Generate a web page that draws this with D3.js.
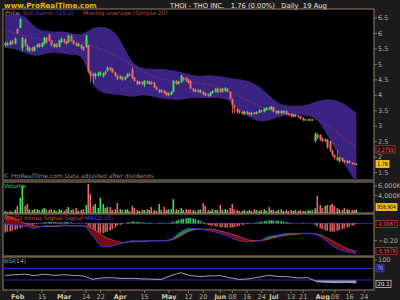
<!doctype html>
<html lang="en">
<head>
<meta charset="UTF-8">
<script src="https://cdnjs.cloudflare.com/ajax/libs/d3/7.8.5/d3.min.js"></script>
<title>THOI daily</title>
<style>
  body { margin: 0; background: #1b1b1b; }
  svg { display: block; }
  text { font-family: "DejaVu Sans", Verdana, sans-serif; }
</style>
</head>
<body>
<div id="chart"></div>
<script>
// ---- data (one entry per trading day, day 0 = late January) ----
const opens = [5.60,5.68,5.62,5.74,5.66,6.13,6.17,5.50,5.80,5.60,5.42,5.52,5.42,5.55,5.65,5.55,5.65,5.85,5.95,5.75,
  5.55,5.65,5.55,5.70,5.80,5.72,5.70,5.92,5.75,5.68,5.58,5.62,5.55,5.55,5.60,4.75,4.70,4.60,4.62,4.65,
  4.60,4.75,4.78,4.88,4.85,4.72,4.62,4.52,4.58,4.50,4.58,4.68,4.82,4.55,4.45,4.35,4.42,4.32,4.45,4.35,
  4.42,4.40,4.25,4.10,4.16,4.14,4.08,3.98,4.00,4.10,4.45,4.35,4.40,4.55,4.55,4.50,4.45,4.20,4.10,4.16,
  4.08,4.10,4.05,4.02,3.97,4.06,4.20,4.08,4.20,4.10,4.12,4.20,4.10,3.85,3.65,3.55,3.50,3.45,3.38,3.45,
  3.42,3.36,3.42,3.38,3.42,3.50,3.45,3.50,3.60,3.52,3.60,3.48,3.40,3.48,3.40,3.48,3.40,3.38,3.30,3.36,
  3.32,3.30,3.25,3.18,3.17,3.18,3.20,2.50,2.72,2.70,2.60,2.50,2.55,2.50,2.20,2.05,1.98,1.85,1.95,1.88,
  1.80,1.86,1.80,1.78,1.74];
const closes = [5.68,5.62,5.72,5.66,5.82,6.00,6.45,5.85,5.60,5.45,5.52,5.42,5.55,5.62,5.55,5.68,5.85,5.70,5.75,5.60,
  5.65,5.55,5.75,5.82,5.70,5.65,5.92,5.75,5.65,5.60,5.65,5.50,5.45,5.92,4.75,4.62,4.60,4.68,4.72,4.72,
  4.70,4.68,4.88,4.80,4.72,4.62,4.52,4.60,4.48,4.58,4.68,4.62,4.52,4.45,4.35,4.42,4.35,4.45,4.38,4.42,
  4.35,4.25,4.18,4.16,4.08,4.05,4.00,4.05,4.10,4.45,4.35,4.42,4.62,4.48,4.45,4.40,4.20,4.12,4.16,4.10,
  4.15,4.02,3.98,3.96,4.08,4.12,4.10,4.20,4.10,4.20,4.22,4.10,3.88,3.65,3.55,3.45,3.42,3.38,3.45,3.38,
  3.36,3.42,3.38,3.44,3.50,3.45,3.55,3.58,3.52,3.62,3.45,3.40,3.48,3.40,3.48,3.38,3.35,3.30,3.36,3.30,
  3.28,3.22,3.18,3.20,3.20,3.20,3.17,2.75,2.60,2.55,2.50,2.55,2.30,2.20,2.05,1.95,1.88,1.98,1.85,1.82,
  1.86,1.80,1.76,1.74,1.76];
const highs = [5.72,5.72,5.76,5.78,5.86,6.16,6.50,5.88,5.84,5.63,5.55,5.56,5.58,5.66,5.68,5.72,5.88,5.88,5.98,5.78,
  5.68,5.68,5.78,5.86,5.83,5.75,5.95,5.95,5.78,5.70,5.68,5.65,5.58,5.95,5.62,4.78,4.72,4.72,4.75,4.76,
  4.73,4.78,4.92,4.90,4.87,4.75,4.65,4.63,4.60,4.60,4.70,4.72,4.90,4.58,4.48,4.45,4.44,4.48,4.47,4.45,
  4.45,4.42,4.28,4.19,4.18,4.16,4.10,4.08,4.13,4.48,4.48,4.45,4.65,4.58,4.58,4.52,4.47,4.22,4.20,4.18,
  4.18,4.12,4.07,4.04,4.10,4.15,4.22,4.23,4.22,4.23,4.25,4.22,4.12,3.88,3.68,3.58,3.52,3.48,3.48,3.47,
  3.44,3.45,3.44,3.47,3.53,3.52,3.58,3.60,3.62,3.65,3.62,3.50,3.50,3.50,3.50,3.50,3.42,3.40,3.38,3.38,
  3.34,3.32,3.27,3.22,3.22,3.22,3.22,2.78,2.75,2.72,2.62,2.58,2.57,2.52,2.22,2.08,2.20,2.00,1.97,1.90,
  1.88,1.88,1.82,1.80,1.78];
const lows = [5.56,5.58,5.60,5.62,5.64,5.97,6.15,5.40,5.56,5.40,5.38,5.40,5.40,5.52,5.52,5.53,5.62,5.66,5.72,5.56,
  5.52,5.52,5.53,5.68,5.66,5.62,5.68,5.72,5.62,5.56,5.55,5.47,5.42,5.52,4.70,4.40,4.35,4.50,4.58,4.60,
  4.56,4.64,4.75,4.76,4.70,4.58,4.48,4.50,4.45,4.47,4.55,4.60,4.50,4.42,4.30,4.32,4.30,4.25,4.35,4.33,
  4.32,4.22,4.15,4.05,4.05,4.02,3.95,3.95,3.98,4.08,4.32,4.32,4.38,4.45,4.42,4.36,4.17,4.08,4.08,4.06,
  4.05,3.98,3.95,3.93,3.95,4.03,4.07,4.06,4.06,4.07,4.10,4.07,3.85,3.40,3.40,3.38,3.38,3.35,3.35,3.35,
  3.32,3.33,3.35,3.36,3.40,3.42,3.43,3.48,3.50,3.50,3.42,3.37,3.37,3.37,3.38,3.35,3.32,3.28,3.28,3.27,
  3.25,3.20,3.15,3.16,3.15,3.16,3.15,2.45,2.55,2.50,2.45,2.47,2.25,2.15,2.00,1.90,1.85,1.80,1.82,1.78,
  1.78,1.77,1.74,1.72,1.73];
// volume in thousands of shares
const volumes = [600,450,600,450,900,1700,3400,5900,1700,2100,1000,850,1000,1000,850,1000,1250,1000,850,1000,
  850,650,1000,850,650,1000,1450,850,1000,1250,650,850,1000,1900,6300,4200,1700,2100,1250,3400,
  2100,1250,1450,1450,850,1000,2300,1000,850,850,1000,650,1700,1250,850,650,850,850,1000,850,
  1450,850,650,2100,850,1450,850,1000,1000,3100,1000,850,1250,850,1000,850,1000,850,650,850,
  1000,2300,1700,850,650,1000,850,850,1900,850,1000,850,1250,2100,1000,850,650,650,850,650,
  850,650,1000,850,650,850,1000,650,1450,850,850,650,850,1000,650,850,650,850,650,850,
  650,850,650,650,850,650,850,1200,3800,1900,1250,1700,1900,1900,2100,1700,1250,1000,850,1250,
  1000,850,850,850,959];
const macdHist = [-0.11,-0.10,-0.10,-0.09,-0.08,-0.07,-0.06,-0.05,-0.04,-0.03,-0.02,-0.02,-0.01,-0.01,0,0.005,0.01,0.012,0.015,0.015,
  0.015,0.012,0.012,0.01,0.012,0.015,0.012,0.01,0.005,0,-0.005,0,0,0.005,-0.03,-0.06,-0.08,-0.10,-0.11,-0.12,
  -0.12,-0.11,-0.10,-0.09,-0.07,-0.05,-0.03,-0.02,-0.01,0,0.01,0.015,0.02,0.02,0.015,0.015,0.01,0.01,0.005,0.005,
  0.005,0,0,0.005,0.005,0.005,0,0.005,0.01,0.02,0.03,0.04,0.05,0.055,0.06,0.065,0.065,0.06,0.05,0.04,
  0.025,0.01,-0.01,-0.02,-0.025,-0.03,-0.035,-0.04,-0.045,-0.05,-0.05,-0.05,-0.05,-0.05,-0.045,-0.04,-0.03,-0.02,-0.015,-0.01,
  -0.005,0,0.005,0.01,0.015,0.02,0.025,0.03,0.035,0.035,0.035,0.03,0.03,0.025,0.02,0.015,0.01,0.005,0,0,
  0,0,-0.005,0,0,0,0,-0.02,-0.04,-0.06,-0.07,-0.08,-0.09,-0.10,-0.10,-0.10,-0.09,-0.08,-0.07,-0.06,
  -0.05,-0.04,-0.03,-0.02,-0.009];

// indicator readings taken every 4th day (days 0, 4, 8 ... 144)
const bandUpper = [6.59,6.59,6.62,6.17,6.07,6.04,6.07,5.97,5.94,6.20,6.20,6.13,5.71,5.00,4.87,4.84,4.84,4.81,4.74,
  4.64,4.61,4.64,4.61,4.55,4.51,4.45,4.29,4.00,3.70,3.64,3.64,3.67,3.80,3.87,3.83,3.67,3.41];
const bandLower = [5.52,5.49,5.36,5.23,5.32,5.39,5.32,5.29,5.29,4.22,4.06,4.00,4.00,3.90,4.00,3.96,3.87,3.83,3.83,
  3.90,3.90,3.90,3.90,3.83,3.51,3.28,3.12,3.15,3.28,3.35,3.35,3.35,3.25,2.70,2.15,1.63,1.15];
const ma20 = [6.10,6.00,5.91,5.84,5.78,5.75,5.75,5.71,5.71,5.58,5.45,5.32,5.16,4.97,4.77,4.61,4.51,4.45,4.42,
  4.42,4.38,4.32,4.25,4.13,3.93,3.80,3.64,3.51,3.44,3.38,3.35,3.32,3.19,3.02,2.80,2.54,2.28];
const macdLine = [-0.01,-0.02,-0.03,-0.06,-0.03,-0.03,-0.02,-0.03,-0.03,-0.15,-0.28,-0.27,-0.24,-0.21,-0.21,-0.21,-0.21,-0.19,-0.10,
  -0.06,-0.07,-0.09,-0.12,-0.16,-0.21,-0.22,-0.21,-0.16,-0.14,-0.12,-0.12,-0.12,-0.14,-0.22,-0.30,-0.34,-0.36];
const signalLine = [0.10,0.05,0.00,-0.03,-0.04,-0.04,-0.03,-0.03,-0.03,-0.07,-0.15,-0.20,-0.23,-0.22,-0.22,-0.21,-0.21,-0.20,-0.15,
  -0.09,-0.07,-0.07,-0.09,-0.12,-0.16,-0.20,-0.21,-0.19,-0.16,-0.14,-0.13,-0.12,-0.13,-0.18,-0.24,-0.30,-0.34];
const rsi14 = [46,48,50,45,50,46,48,46,44,33,37,38,35,36,34,33,32,45,55,45,42,44,45,38,32,34,40,46,42,41,37,38,
  24,22,21,22,20.1];

const tickDays = [5,15,24,33,39,47,57,67,75,81,88,93,99,105,110,117,122,130,135,141,147];
const tickLabels = ["Feb","15","Mar","14","22","Apr","15","May","12","20","Jun","08","16","24","Jul","13","21","Aug","08","16","24"];
const months = ["Feb","Mar","Apr","May","Jun","Jul","Aug"];

// ---- layout ----
const W = 400, H = 300, L = 3, R = 374;
const pricePanel = {top: 9, bottom: 180},
  volPanel = {top: 182, bottom: 213},
  macdPanel = {top: 214, bottom: 256},
  rsiPanel = {top: 257, bottom: 290};
const frame = "#7d7058", axisText = "#b8a888";
const up = "#3ee05a", down = "#ec6a6a";

const svg = d3.select("#chart").append("svg").attr("width", W).attr("height", H);
svg.append("rect").attr("width", W).attr("height", H).attr("fill", "#1b1b1b");

const x = d3.scaleLinear().domain([0, 144]).range([5, 356.4]);
const sampleDays = d3.range(0, 145, 4);
const idx = d3.range(closes.length);

const yPrice = d3.scaleLinear().domain([1.24, 6.78]).range([pricePanel.bottom, pricePanel.top]);
const yVol = d3.scaleLinear().domain([0, 6000]).range([214, 185.4]);
const yMacd = d3.scaleLinear().domain([0, -0.2]).range([223.3, 240]);
const yRsi = d3.scaleLinear().domain([0, 100]).range([288.8, 259.5]);

// panels
[pricePanel, volPanel, macdPanel, rsiPanel].forEach((p, k) => {
  svg.append("clipPath").attr("id", "clip" + k).append("rect")
    .attr("x", L).attr("y", p.top).attr("width", R - L).attr("height", p.bottom - p.top);
  svg.append("rect").attr("x", L).attr("y", p.top).attr("width", R - L).attr("height", p.bottom - p.top)
    .attr("fill", "#000").attr("stroke", frame).attr("stroke-width", 1.2);
});

// ---- price panel ----
const gp = svg.append("g").attr("clip-path", "url(#clip0)");
gp.append("path")
  .datum(sampleDays)
  .attr("fill", "#3b2382")
  .attr("d", d3.area().curve(d3.curveBasis)
    .x(d => x(d)).y0((d, i) => yPrice(bandLower[i])).y1((d, i) => yPrice(bandUpper[i])));
gp.append("path")
  .datum(sampleDays)
  .attr("fill", "none").attr("stroke", "#c0405a").attr("stroke-width", 0.8).attr("stroke-dasharray", "1,2")
  .attr("d", d3.line().curve(d3.curveBasis).x(d => x(d)).y((d, i) => yPrice(ma20[i])));

const candle = gp.selectAll("g.c").data(idx).join("g").attr("class", "c")
  .attr("fill", i => closes[i] >= opens[i] ? up : down)
  .attr("stroke", i => closes[i] >= opens[i] ? up : down);
candle.append("line")
  .attr("x1", i => Math.round(x(i)) + 0.5).attr("x2", i => Math.round(x(i)) + 0.5)
  .attr("y1", i => yPrice(highs[i])).attr("y2", i => yPrice(lows[i]))
  .attr("stroke-width", 1).attr("opacity", 0.8);
candle.append("rect")
  .attr("stroke", "none")
  .attr("x", i => Math.round(x(i)) - 0.5).attr("width", 2)
  .attr("y", i => yPrice(Math.max(opens[i], closes[i])))
  .attr("height", i => Math.max(1, Math.abs(yPrice(opens[i]) - yPrice(closes[i]))));

// ---- volume ----
svg.append("g").attr("clip-path", "url(#clip1)")
  .selectAll("rect").data(idx).join("rect")
  .attr("x", i => Math.round(x(i)) - 0.5).attr("width", 1.6)
  .attr("y", i => yVol(volumes[i])).attr("height", i => 214 - yVol(volumes[i]))
  .attr("fill", i => closes[i] >= opens[i] ? up : down);

// ---- MACD ----
const gm = svg.append("g").attr("clip-path", "url(#clip2)");
gm.append("line").attr("x1", L).attr("x2", R).attr("y1", yMacd(0)).attr("y2", yMacd(0))
  .attr("stroke", "#2a2ab8").attr("stroke-width", 1);
gm.selectAll("rect.h").data(idx).join("rect").attr("class", "h")
  .attr("x", i => Math.round(x(i)) - 0.5).attr("width", 1.4)
  .attr("y", i => Math.min(yMacd(0), yMacd(macdHist[i])))
  .attr("height", i => Math.abs(yMacd(macdHist[i]) - yMacd(0)))
  .attr("fill", i => macdHist[i] >= 0 ? up : down);

const curve = d3.curveMonotoneX;
svg.append("clipPath").attr("id", "belowMacd").append("path").datum(sampleDays)
  .attr("d", d3.area().curve(curve).x(d => x(d)).y0(macdPanel.bottom).y1((d, i) => yMacd(macdLine[i])));
svg.append("clipPath").attr("id", "aboveMacd").append("path").datum(sampleDays)
  .attr("d", d3.area().curve(curve).x(d => x(d)).y0(macdPanel.top).y1((d, i) => yMacd(macdLine[i])));
const between = d3.area().curve(curve).x(d => x(d))
  .y0((d, i) => yMacd(signalLine[i])).y1((d, i) => yMacd(macdLine[i]));
gm.append("g").attr("clip-path", "url(#belowMacd)").append("path").datum(sampleDays)
  .attr("fill", "#1f8a2a").attr("d", between);
gm.append("g").attr("clip-path", "url(#aboveMacd)").append("path").datum(sampleDays)
  .attr("fill", "#7a0a0e").attr("d", between);
gm.append("path").datum(sampleDays).attr("fill", "none").attr("stroke", "#b0385a").attr("stroke-width", 1)
  .attr("d", d3.line().curve(curve).x(d => x(d)).y((d, i) => yMacd(signalLine[i])));
gm.append("path").datum(sampleDays).attr("fill", "none").attr("stroke", "#2a3ae0").attr("stroke-width", 1)
  .attr("d", d3.line().curve(curve).x(d => x(d)).y((d, i) => yMacd(macdLine[i])));

// ---- RSI ----
const gr = svg.append("g").attr("clip-path", "url(#clip3)");
svg.append("clipPath").attr("id", "below30").append("rect")
  .attr("x", L).attr("y", yRsi(30)).attr("width", R - L).attr("height", rsiPanel.bottom - yRsi(30));
gr.append("g").attr("clip-path", "url(#below30)").append("path").datum(sampleDays)
  .attr("fill", "#8a96b4")
  .attr("d", d3.area().x(d => x(d)).y0(yRsi(30)).y1((d, i) => yRsi(rsi14[i])));
[70, 30].forEach(v => gr.append("line").attr("x1", L).attr("x2", R)
  .attr("y1", yRsi(v)).attr("y2", yRsi(v)).attr("stroke", "#2a2ab8").attr("stroke-width", 1.2));
gr.append("path").datum(sampleDays).attr("fill", "none").attr("stroke", "#b4b4b4").attr("stroke-width", 0.9)
  .attr("d", d3.line().x(d => x(d)).y((d, i) => yRsi(rsi14[i])));

// ---- axes ----
function styleAxis(g) {
  g.select(".domain").remove();
  g.selectAll(".tick line").attr("stroke", frame);
  g.selectAll(".tick text").attr("fill", axisText).attr("font-size", 6.5);
}
svg.append("g").attr("transform", `translate(${R},0)`)
  .call(d3.axisRight(yPrice).tickValues([1.5,2,2.5,3,3.5,4,4.5,5,5.5,6,6.5]).tickSize(3).tickPadding(1)
    .tickFormat(d3.format("~g"))).call(styleAxis);
svg.append("g").attr("transform", `translate(${R},0)`)
  .call(d3.axisRight(yVol).tickValues([4000, 6000]).tickSize(3).tickPadding(1)
    .tickFormat(d => d3.format(",")(d) + "K")).call(styleAxis);
svg.append("g").attr("transform", `translate(${R},0)`)
  .call(d3.axisRight(yMacd).tickValues([-0.2]).tickSize(3).tickPadding(1)).call(styleAxis);
svg.append("g").attr("transform", `translate(${R},0)`)
  .call(d3.axisRight(yRsi).tickValues([100]).tickSize(3).tickPadding(1)).call(styleAxis);

const xa = svg.append("g").attr("transform", `translate(0,${rsiPanel.bottom})`)
  .call(d3.axisBottom(x).tickValues(tickDays).tickFormat((d, i) => tickLabels[i]).tickSize(3).tickPadding(1))
  .call(styleAxis);
xa.selectAll(".tick text").attr("font-weight", d => months.includes(tickLabels[tickDays.indexOf(d)]) ? "bold" : null)
  .attr("fill", d => months.includes(tickLabels[tickDays.indexOf(d)]) ? "#d8c8a0" : axisText);

// ---- value tags on the right ----
function tag(y, label, fill, stroke, color, w) {
  svg.append("rect").attr("x", 376).attr("y", y - 3.6).attr("width", w).attr("height", 7.2)
    .attr("fill", fill).attr("stroke", stroke).attr("stroke-width", 0.8);
  svg.append("text").attr("x", 377.2).attr("y", y + 2.2).attr("font-size", 5.8)
    .attr("textLength", w - 2.4).attr("lengthAdjust", "spacingAndGlyphs")
    .attr("fill", color).text(label);
}
tag(yPrice(ma20[ma20.length - 1]) + 1.5, "2.2755", "#1a0606", "#a04048", "#e86a6a", 19);
tag(yPrice(closes[closes.length - 1]) , "1.76", "#f2c21a", "#f2c21a", "#000", 13);
tag(207, "958,904", "#f2c21a", "#f2c21a", "#000", 21);
tag(224, "-0.0087", "#1a0606", "#a04048", "#e86a6a", 21);
tag(251, "-0.3579", "#1a0606", "#a04048", "#e86a6a", 21);
tag(yRsi(70), "70", "#202070", "#4040c0", "#c0c0ff", 8);
tag(yRsi(20.1) + 1, "20.1", "#101010", "#c8c8c8", "#e8e8e8", 15);

// ---- titles and legends ----
svg.append("text").attr("x", 4).attr("y", 7.5).attr("font-size", 7.2).attr("font-weight", "bold")
  .attr("fill", "#e2b800").text("www.ProRealTime.com");
svg.append("text").attr("x", 170).attr("y", 7.5).attr("font-size", 6.8).attr("fill", "#e4e4e4")
  .attr("xml:space", "preserve").text("THOI - THO INC.   1.76 (0.00%)   Daily  19 Aug");

const lg = svg.append("text").attr("y", 15).attr("font-size", 6).attr("xml:space", "preserve");
lg.append("tspan").attr("x", 5).attr("fill", "#a0a0a0").text("Price");
lg.append("tspan").attr("x", 23).attr("fill", "#5b3aa8").text("Boll.bands (20,2)");
lg.append("tspan").attr("x", 83).attr("fill", "#b04a4a").text("Moving average (Simple 20)");
svg.append("text").attr("x", 3).attr("y", 178).attr("font-size", 6).attr("fill", "#909090")
  .text("© ProRealTime.com  Data adjusted after dividends");
svg.append("text").attr("x", 4).attr("y", 188).attr("font-size", 6).attr("fill", "#3ec84a").text("Volume");
const ml = svg.append("text").attr("y", 220).attr("font-size", 6);
ml.append("tspan").attr("x", 4).attr("fill", "#d05050").text("MACD minus Signal ");
ml.append("tspan").attr("fill", "#c04870").text("Signal ");
ml.append("tspan").attr("fill", "#3a4ae8").text("MACD (5)");
svg.append("text").attr("x", 4).attr("y", 263).attr("font-size", 6).attr("fill", "#a8a8a8").text("RSI(14)");
</script>
</body>
</html>
